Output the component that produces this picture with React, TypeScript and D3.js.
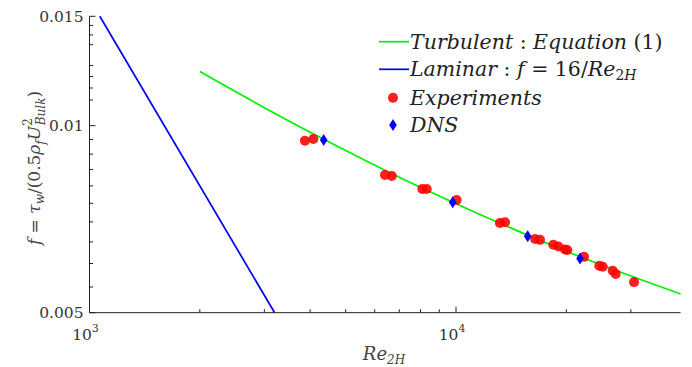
import React from "react";
import * as d3 from "d3";

// friction factor vs Reynolds number (log-log)
const TURB_RE = [2000, 3000, 4000, 5000, 7000, 10000, 15000, 20000, 30000, 41000];
const TURB_F = [0.01222, 0.01069, 0.00976, 0.00912, 0.00826, 0.00749, 0.00674, 0.00628, 0.00573, 0.00536];

const LAM_RE = [1066.7, 3200];
const LAM_F = [0.015, 0.005];

const EXP_RE = [3870, 4080, 6400, 6680, 8090, 8320, 10040, 13180, 13610, 16430, 16950, 18430, 19020, 19830, 20120, 22350, 24600, 25130, 26770, 27280, 30600];
const EXP_F = [0.00946, 0.00952, 0.00833, 0.0083, 0.00791, 0.00791, 0.00759, 0.00697, 0.00699, 0.00657, 0.00655, 0.00643, 0.00639, 0.00632, 0.00631, 0.00615, 0.00595, 0.00593, 0.00584, 0.00577, 0.0056];

const DNS_RE = [4355, 9795, 15690, 21800];
const DNS_F = [0.00948, 0.00753, 0.00664, 0.00611];

const Y_MAJOR = [0.005, 0.01, 0.015];
const Y_LABELS = ["0.005", "0.01", "0.015"];
const Y_MINOR = [0.0055, 0.006, 0.0065, 0.007, 0.0075, 0.008, 0.0085, 0.009, 0.0095, 0.011, 0.0115, 0.012, 0.0125, 0.0135, 0.014, 0.0145];
const X_MAJOR = [1000, 10000];
const X_EXP = ["3", "4"];
const X_MINOR = [2000, 3000, 4000, 5000, 6000, 7000, 8000, 9000, 20000, 30000];

const W = 692;
const H = 367;
const FONT = "DejaVu Serif";
const AXIS = "#222";

export default function App() {
  const x = d3.scaleLog().domain([1000, 41000]).range([89.5, 680.6]);
  const y = d3.scaleLog().domain([0.005, 0.015]).range([312.7, 16.3]);
  const x0 = x(1000);
  const y0 = y(0.005);

  const line = d3
    .line<[number, number]>()
    .x((d) => x(d[0]))
    .y((d) => y(d[1]))
    .curve(d3.curveMonotoneX);

  const turb = line(TURB_RE.map((r, i) => [r, TURB_F[i]]));
  const lam = line(LAM_RE.map((r, i) => [r, LAM_F[i]]));

  const diamond = (cx: number, cy: number) =>
    `M${cx},${cy - 6}L${cx + 3.8},${cy}L${cx},${cy + 6}L${cx - 3.8},${cy}Z`;

  const legendX = 379;
  const rows = [41.7, 69.3, 97.7, 125];

  return (
    <svg width={W} height={H} style={{ position: "absolute", left: 0, top: 0 }}>
      <rect width={W} height={H} fill="white" />

      {/* lines */}
      <path d={turb ?? ""} fill="none" stroke="#00f000" strokeWidth={1.7} />
      <path d={lam ?? ""} fill="none" stroke="#0000f0" strokeWidth={1.7} />

      {/* experiments */}
      {EXP_RE.map((r, i) => (
        <circle key={i} cx={x(r)} cy={y(EXP_F[i])} r={5} fill="#ff0000" fillOpacity={0.88} />
      ))}
      {DNS_RE.map((r, i) => (
        <path key={i} d={diamond(x(r), y(DNS_F[i]))} fill="#0000ff" />
      ))}

      {/* axes */}
      <line x1={x0} x2={x0} y1={y(0.015)} y2={y0} stroke={AXIS} strokeWidth={1} />
      <line x1={x0} x2={x(41000)} y1={y0} y2={y0} stroke={AXIS} strokeWidth={1} />
      {Y_MAJOR.map((v) => (
        <line key={v} x1={x0} x2={x0 + 6} y1={y(v)} y2={y(v)} stroke={AXIS} />
      ))}
      {Y_MINOR.map((v) => (
        <line key={v} x1={x0} x2={x0 + 3.5} y1={y(v)} y2={y(v)} stroke={AXIS} />
      ))}
      {X_MAJOR.map((v) => (
        <line key={v} x1={x(v)} x2={x(v)} y1={y0} y2={y0 - 6} stroke={AXIS} />
      ))}
      {X_MINOR.map((v) => (
        <line key={v} x1={x(v)} x2={x(v)} y1={y0} y2={y0 - 3.5} stroke={AXIS} />
      ))}

      {Y_MAJOR.map((v, i) => (
        <text key={v} x={x0 - 6} y={y(v)} dy="0.35em" textAnchor="end" fontSize={15.5} fill="#333" fontFamily={FONT}>
          {Y_LABELS[i]}
        </text>
      ))}
      {X_MAJOR.map((v, i) => (
        <text key={v} x={x(v) - 4} y={y0 + 27} textAnchor="middle" fontSize={15.5} fill="#333" fontFamily={FONT}>
          10
          <tspan fontSize={11} dy={-8}>
            {X_EXP[i]}
          </tspan>
        </text>
      ))}

      {/* axis titles */}
      <text x={384} y={360} textAnchor="middle" fontSize={18} fill="#444" fontStyle="italic" fontFamily={FONT}>
        Re
        <tspan fontSize={12} dy={4}>2H</tspan>
      </text>
      <text
        transform="translate(40,168) rotate(-90)"
        textAnchor="middle"
        fontSize={17}
        fill="#444"
        fontFamily={FONT}
      >
        <tspan fontStyle="italic">f</tspan>
        <tspan> = </tspan>
        <tspan fontStyle="italic">τ</tspan>
        <tspan fontStyle="italic" fontSize={12} dy={4}>w</tspan>
        <tspan dy={-4}>/(0.5</tspan>
        <tspan fontStyle="italic">ρ</tspan>
        <tspan fontStyle="italic" fontSize={12} dy={5}>f</tspan>
        <tspan fontStyle="italic" dy={-5}>U</tspan>
        <tspan fontSize={12} dy={-8}>2</tspan>
        <tspan fontStyle="italic" fontSize={12} dx={-7} dy={13}>Bulk</tspan>
        <tspan dy={-5}>)</tspan>
      </text>

      {/* legend */}
      <g fontSize={20.5} fill="#222" fontFamily={FONT}>
        <line x1={legendX} x2={legendX + 30} y1={rows[0]} y2={rows[0]} stroke="#00f000" strokeWidth={1.7} />
        <text x={legendX + 31} y={rows[0] + 7}>
          <tspan fontStyle="italic">Turbulent</tspan> : <tspan fontStyle="italic">Equation</tspan> (1)
        </text>
        <line x1={legendX} x2={legendX + 30} y1={rows[1]} y2={rows[1]} stroke="#0000f0" strokeWidth={1.7} />
        <text x={legendX + 31} y={rows[1] + 7}>
          <tspan fontStyle="italic">Laminar</tspan> : <tspan fontStyle="italic">f</tspan> = 16/
          <tspan fontStyle="italic">Re</tspan>
          <tspan fontSize={14} dy={4}>2</tspan>
          <tspan fontSize={14} fontStyle="italic">H</tspan>
        </text>
        <circle cx={393} cy={rows[2]} r={5} fill="#ff0000" fillOpacity={0.88} />
        <text x={legendX + 31} y={rows[2] + 7} fontStyle="italic">Experiments</text>
        <path d={diamond(393, rows[3])} fill="#0000ff" />
        <text x={legendX + 31} y={rows[3] + 7} fontStyle="italic">DNS</text>
      </g>
    </svg>
  );
}
